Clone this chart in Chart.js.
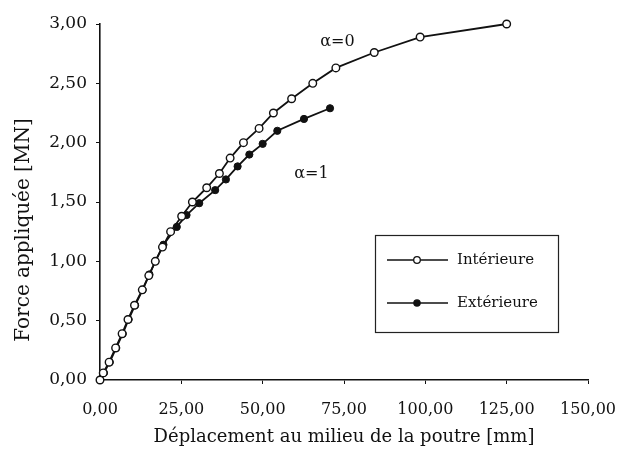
<!DOCTYPE html>
<html>
<head>
<meta charset="utf-8">
<script src="https://cdn.jsdelivr.net/npm/chart.js@4"></script>
<style>
  html, body { margin: 0; padding: 0; background: #fff; }
  #wrap { width: 621px; height: 463px; }
</style>
</head>
<body>
<div id="wrap"><canvas id="forceChart" width="621" height="463"></canvas></div>
<script>
// Courbes force / déplacement
const interiorX = [0, 1.0, 2.8, 4.8, 6.8, 8.6, 10.6, 13.0, 15.0, 17.0, 19.2, 21.7, 25.1, 28.4, 32.8, 36.7, 40.0, 44.1, 48.9, 53.3, 58.9, 65.4, 72.5, 84.3, 98.4, 125.0];
const interiorY = [0, 0.06, 0.15, 0.27, 0.39, 0.51, 0.63, 0.76, 0.88, 1.00, 1.12, 1.25, 1.38, 1.50, 1.62, 1.74, 1.87, 2.00, 2.12, 2.25, 2.37, 2.50, 2.63, 2.76, 2.89, 3.00];
const exteriorX = [0, 1.2, 3.0, 5.0, 7.0, 8.8, 10.8, 13.1, 15.2, 17.0, 19.5, 23.6, 26.6, 30.5, 35.4, 38.7, 42.3, 45.9, 50.0, 54.5, 62.7, 70.7];
const exteriorY = [0, 0.06, 0.15, 0.27, 0.39, 0.51, 0.63, 0.76, 0.89, 1.00, 1.14, 1.29, 1.39, 1.49, 1.60, 1.69, 1.80, 1.90, 1.99, 2.10, 2.20, 2.29];

const seriesNames = ["Intérieure", "Extérieure"];
const xTicks = [0, 25, 50, 75, 100, 125, 150];
const yTicks = [0, 0.5, 1, 1.5, 2, 2.5, 3];
const yTitle = "Force appliquée [MN]";

// étiquettes alpha (position en coordonnées du graphique)
const alphaLabels = [
  { text: "α=0", x: 73, y: 2.85 },
  { text: "α=1", x: 65, y: 1.74 }
];

const serif = "'DejaVu Serif', 'Liberation Serif', serif";
const comma = (v) => Number(v).toFixed(2).replace(".", ",");

const toPoints = (xs, ys) => xs.map((x, i) => ({ x: x, y: ys[i] }));

// titre vertical, légende et annotations
const extras = {
  id: "extras",
  afterDraw(chart) {
    const ctx = chart.ctx;
    const xs = chart.scales.x, ys = chart.scales.y;
    ctx.save();
    ctx.fillStyle = "#111";
    ctx.textAlign = "center";
    ctx.textBaseline = "middle";

    // titre de l'axe y (un peu plus bas que le centre, comme l'original)
    ctx.save();
    ctx.translate(24, 230);
    ctx.rotate(-Math.PI / 2);
    ctx.font = "20px " + serif;
    ctx.fillText(yTitle, 0, 0);
    ctx.restore();

    ctx.font = "16px " + serif;
    alphaLabels.forEach((a) => {
      ctx.fillText(a.text, xs.getPixelForValue(a.x), ys.getPixelForValue(a.y));
    });

    // cadre de la légende
    ctx.strokeStyle = "#222";
    ctx.lineWidth = 1.2;
    ctx.strokeRect(375.5, 235.5, 183, 97);
    const rows = [260, 303];
    chart.data.datasets.forEach((ds, i) => {
      const y = rows[i];
      ctx.beginPath();
      ctx.moveTo(387, y);
      ctx.lineTo(448, y);
      ctx.lineWidth = 1.6;
      ctx.strokeStyle = "#111";
      ctx.stroke();
      ctx.beginPath();
      ctx.arc(417, y, ds.pointRadius - 0.5, 0, Math.PI * 2);
      ctx.fillStyle = ds.pointBackgroundColor;
      ctx.fill();
      ctx.lineWidth = 1.3;
      ctx.stroke();
      ctx.fillStyle = "#111";
      ctx.font = "15px " + serif;
      ctx.textAlign = "left";
      ctx.fillText(ds.label, 457, y);
    });
    ctx.restore();
  }
};

const ctx = document.getElementById("forceChart").getContext("2d");
new Chart(ctx, {
  type: "scatter",
  data: {
    datasets: [
      {
        label: seriesNames[0],
        data: toPoints(interiorX, interiorY),
        showLine: true,
        borderColor: "#111",
        borderWidth: 1.8,
        pointRadius: 3.8,
        pointBackgroundColor: "#fff",
        pointBorderColor: "#111",
        pointBorderWidth: 1.4,
        clip: false
      },
      {
        label: seriesNames[1],
        data: toPoints(exteriorX, exteriorY),
        showLine: true,
        borderColor: "#111",
        borderWidth: 1.8,
        pointRadius: 3.6,
        pointBackgroundColor: "#111",
        pointBorderColor: "#111",
        pointBorderWidth: 1,
        clip: false
      }
    ]
  },
  options: {
    responsive: false,
    animation: false,
    layout: { padding: { top: 24, right: 33, left: 0, bottom: 0 } },
    plugins: {
      legend: { display: false },
      tooltip: { enabled: false }
    },
    scales: {
      x: {
        type: "linear",
        min: 0,
        max: 150,
        afterBuildTicks: (s) => { s.ticks = xTicks.map((v) => ({ value: v })); },
        afterFit: (s) => { s.height = 83; s.paddingRight = 0; s.paddingLeft = 0; },
        border: { color: "#111", width: 1.6 },
        grid: { display: true, drawOnChartArea: false, color: "#111", tickLength: 4 },
        ticks: {
          color: "#111",
          padding: 16,
          maxRotation: 0,
          font: { family: serif, size: 16 },
          callback: (v) => comma(v)
        },
        title: {
          display: true,
          text: "Déplacement au milieu de la poutre [mm]",
          color: "#111",
          font: { family: serif, size: 18 },
          padding: { top: 4, bottom: 15 }
        }
      },
      y: {
        type: "linear",
        min: 0,
        max: 3,
        afterBuildTicks: (s) => { s.ticks = yTicks.map((v) => ({ value: v })); },
        afterFit: (s) => { s.width = 100; s.paddingTop = 0; s.paddingBottom = 0; },
        border: { color: "#111", width: 1.6 },
        grid: { display: true, drawOnChartArea: false, color: "#111", tickLength: 4 },
        ticks: {
          color: "#111",
          padding: 9,
          font: { family: serif, size: 17 },
          callback: (v) => comma(v)
        }
      }
    }
  },
  plugins: [extras]
});
</script>
</body>
</html>
